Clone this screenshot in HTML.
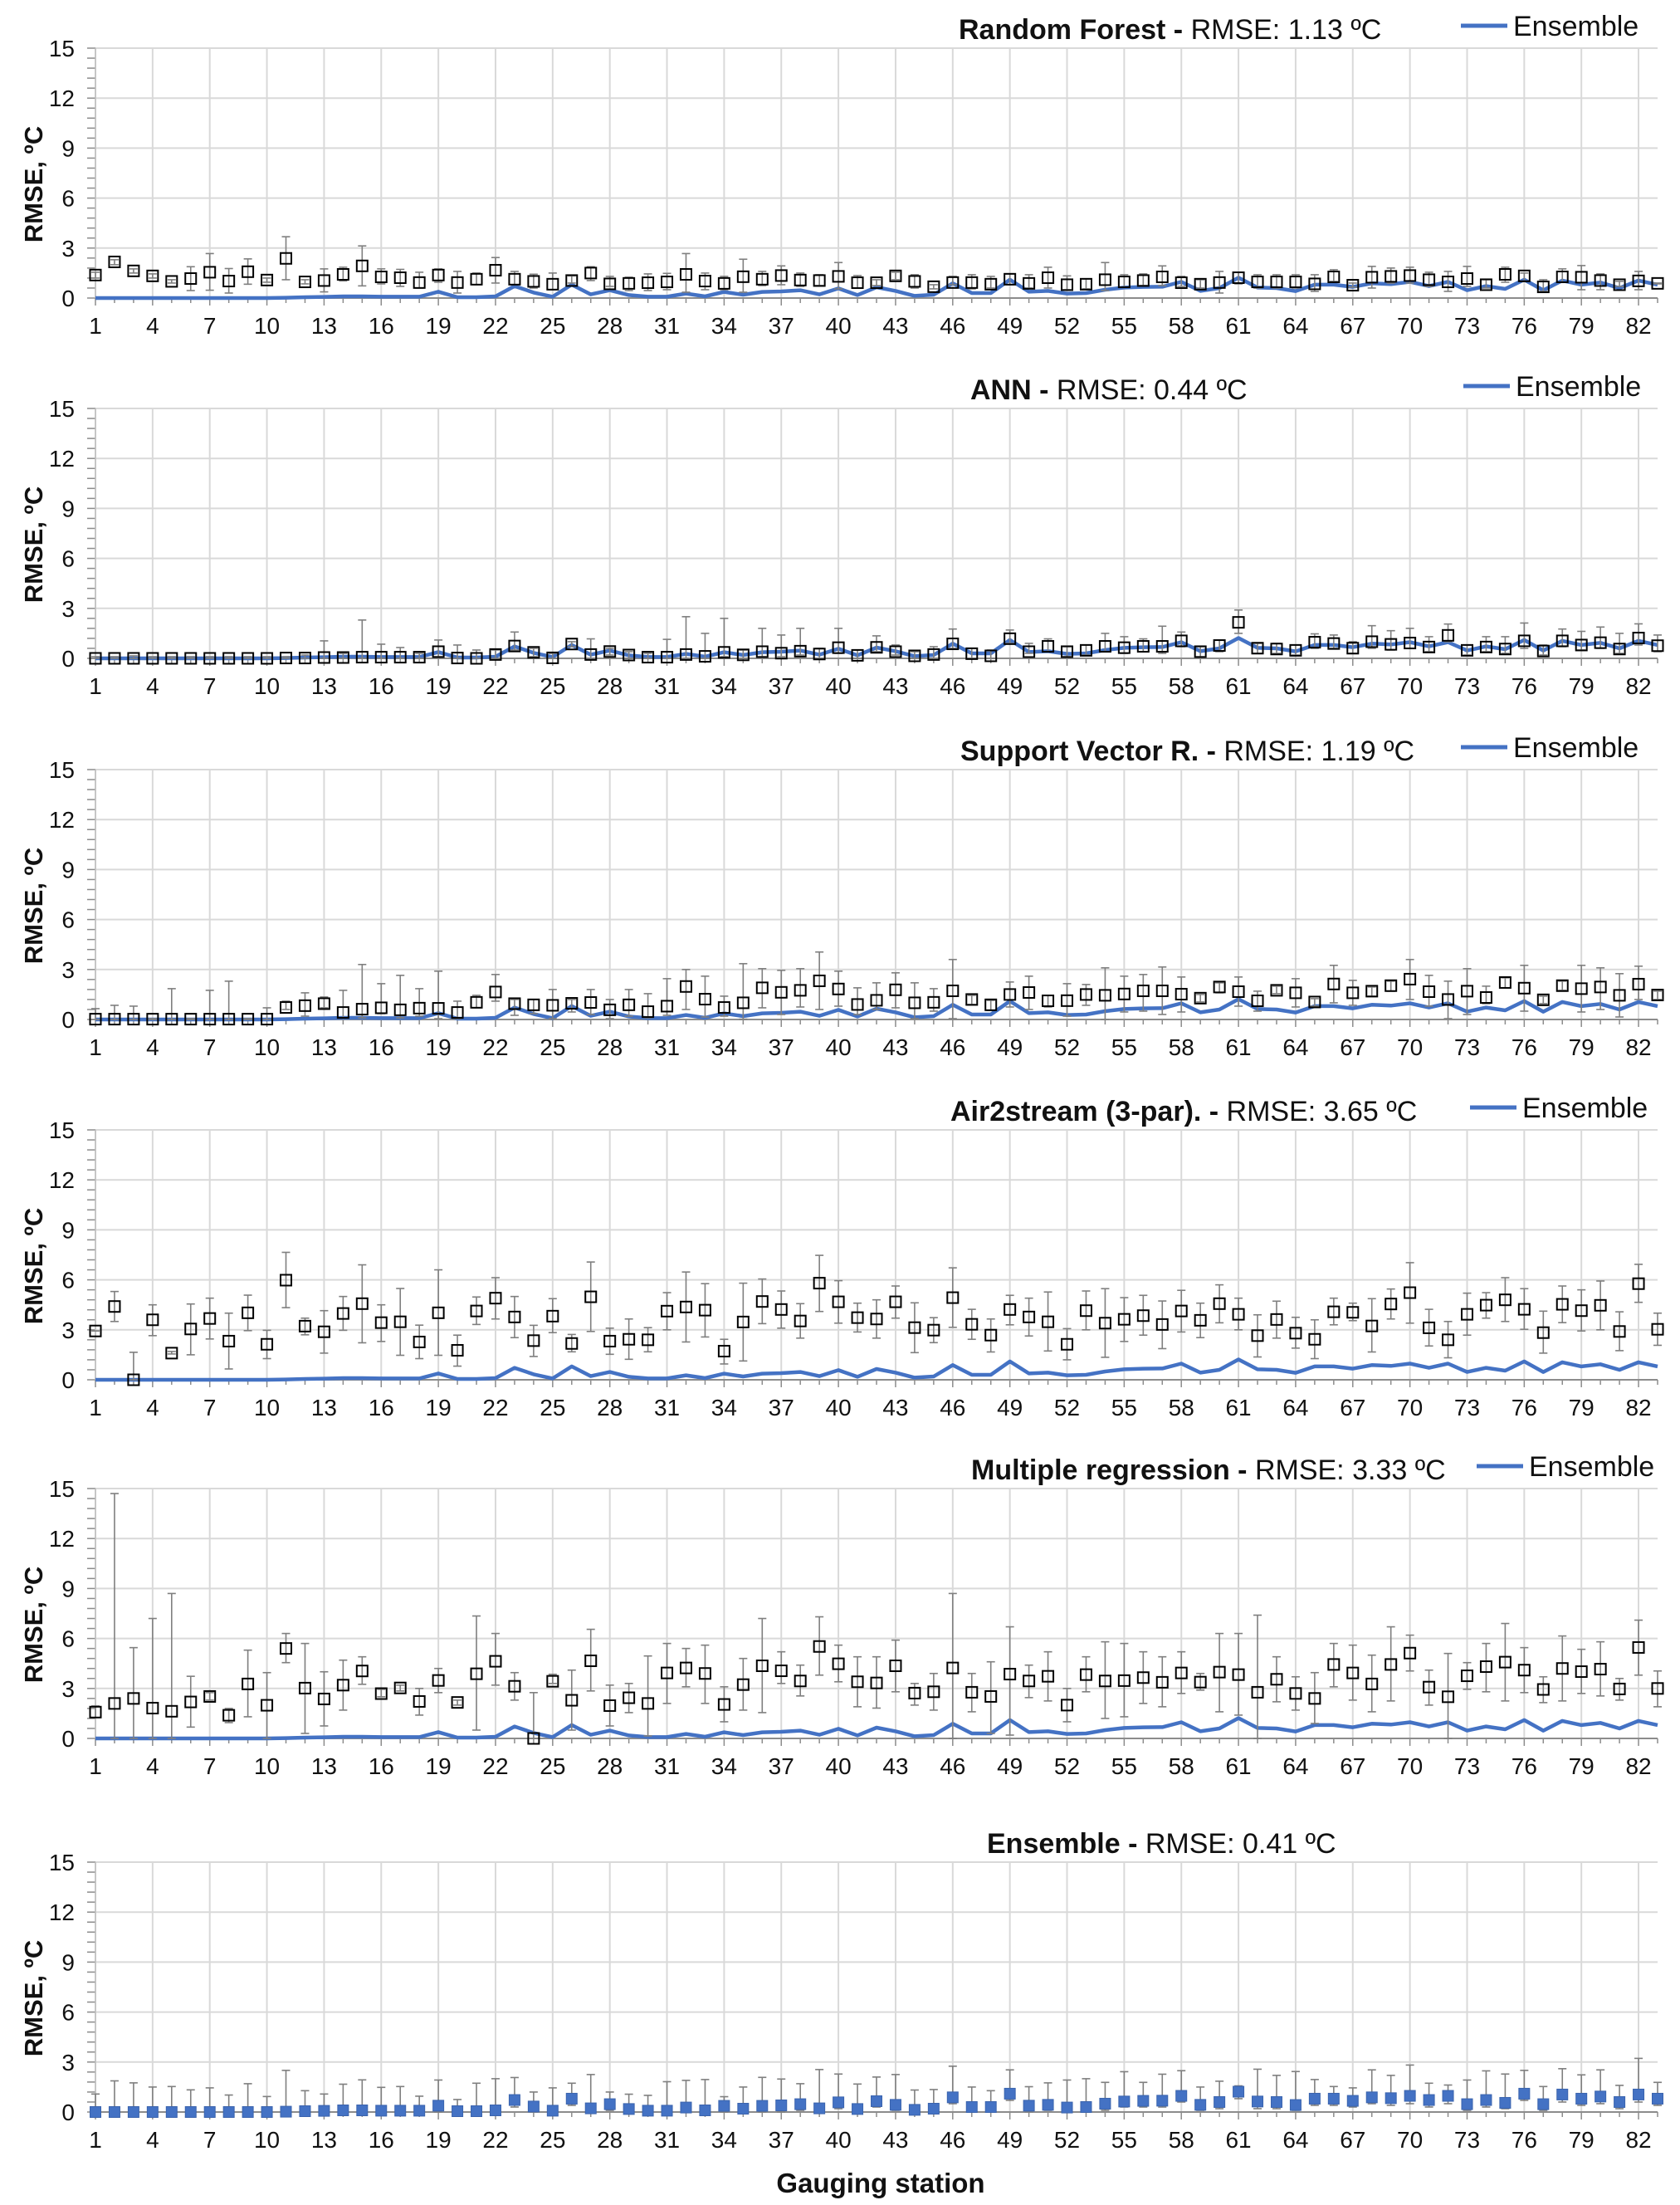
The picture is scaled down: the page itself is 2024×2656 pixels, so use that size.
<!DOCTYPE html>
<html><head><meta charset="utf-8"><title>RMSE per gauging station</title>
<style>
html,body{margin:0;padding:0;background:#fff;}
svg{display:block;font-family:"Liberation Sans",Arial,sans-serif;}
</style></head>
<body>
<svg id="chart" width="2024" height="2656" viewBox="0 0 2024 2656" xmlns="http://www.w3.org/2000/svg">
<rect x="0" y="0" width="2024" height="2656" fill="#fff"/>
</svg>
<script>
const stationCount = 83;
const yTicks = [0, 3, 6, 9, 12, 15];
const xTickLabels = [1,4,7,10,13,16,19,22,25,28,31,34,37,40,43,46,49,52,55,58,61,64,67,70,73,76,79,82];
const panelModels = ["Random Forest", "ANN", "Support Vector R.", "Air2stream (3-par).", "Multiple regression", "Ensemble"];
const panelRmse = ["1.13", "0.44", "1.19", "3.65", "3.33", "0.41"];

const ensembleVals = [0,0,0,0,0,0,0,0,0,0,
0.02,0.05,0.07,0.1,0.1,0.08,0.08,0.08,0.38,0.05,
0.05,0.1,0.72,0.33,0.08,0.8,0.22,0.47,0.18,0.08,
0.08,0.27,0.1,0.37,0.2,0.37,0.4,0.47,0.22,0.58,
0.18,0.65,0.43,0.13,0.2,0.88,0.3,0.3,1.1,0.38,
0.43,0.27,0.3,0.5,0.63,0.67,0.68,0.97,0.43,0.6,
1.22,0.63,0.6,0.42,0.8,0.8,0.67,0.88,0.83,0.97,
0.72,0.97,0.47,0.72,0.55,1.1,0.47,1.05,0.8,0.93,
0.6,1.05,0.8];

const rfVals = [1.38,2.17,1.63,1.33,1.0,1.17,1.55,1.02,1.58,1.08,
2.38,0.97,1.05,1.42,1.93,1.27,1.22,0.93,1.38,0.93,
1.13,1.67,1.13,1.0,0.83,1.05,1.5,0.85,0.88,0.92,
0.97,1.42,1.02,0.88,1.28,1.13,1.35,1.08,1.05,1.3,
0.92,0.92,1.33,1.0,0.68,0.93,0.93,0.83,1.13,0.88,
1.22,0.8,0.83,1.1,0.97,1.05,1.27,0.92,0.83,0.93,
1.22,0.97,0.97,0.97,0.85,1.27,0.77,1.25,1.3,1.35,
1.1,0.97,1.17,0.8,1.42,1.33,0.67,1.27,1.25,1.05,
0.8,1.03,0.88];
const rfLo = [1.2,2.0,1.5,1.2,0.9,0.45,0.47,0.3,0.83,0.95,
1.1,0.85,0.37,1.03,0.73,0.85,0.7,0.6,0.95,0.3,
0.8,0.9,0.8,0.6,0.5,0.9,1.05,0.7,0.45,0.45,
0.5,0.35,0.5,0.5,0.35,0.75,0.8,0.7,0.75,0.55,
0.6,0.75,1.1,0.6,0.55,0.8,0.55,0.6,0.8,0.6,
0.6,0.5,0.55,0.45,0.65,0.75,0.75,0.7,0.6,0.3,
0.85,0.6,0.6,0.6,0.4,1.0,0.65,0.6,0.9,0.9,
0.7,0.4,0.7,0.6,0.95,1.0,0.4,0.95,0.5,0.5,
0.7,0.5,0.85];
const rfHi = [1.55,2.3,1.75,1.45,1.1,1.88,2.67,1.77,2.35,1.2,
3.68,1.1,1.75,1.85,3.13,1.75,1.72,1.55,1.75,1.6,
1.5,2.43,1.6,1.43,1.5,1.33,1.88,1.3,1.25,1.45,
1.48,2.67,1.5,1.3,2.33,1.6,1.93,1.5,1.4,2.13,
1.35,1.1,1.55,1.4,0.8,1.3,1.4,1.3,1.45,1.4,
1.85,1.33,1.15,2.13,1.4,1.45,1.93,1.3,1.1,1.6,
1.55,1.4,1.4,1.4,1.4,1.7,0.9,1.9,1.8,1.85,
1.55,1.6,1.9,1.1,1.85,1.5,1.1,1.75,1.95,1.45,
1.0,1.6,0.9];

const annVals = [0,0,0,0,0,0,0,0,0,0,
0.02,0.02,0.05,0.05,0.07,0.07,0.07,0.07,0.4,0.02,
0,0.23,0.74,0.36,0.03,0.86,0.23,0.41,0.2,0.07,
0.07,0.23,0.12,0.36,0.21,0.4,0.31,0.43,0.26,0.64,
0.18,0.66,0.4,0.15,0.23,0.87,0.28,0.15,1.18,0.4,
0.72,0.4,0.48,0.72,0.64,0.72,0.72,1.05,0.4,0.77,
2.16,0.61,0.56,0.48,0.97,0.89,0.61,1.0,0.84,0.92,
0.68,1.38,0.48,0.68,0.56,1.05,0.44,1.05,0.8,0.94,
0.56,1.22,0.76];
const annLo = [0,0,0,0,0,0,0,0,0,0,
0,0,0,0,0,0,0,0,0.1,0,
0,0,0.5,0.1,0,0.7,0,0.2,0,0,
0,0,0,0.1,0,0.1,0.1,0.2,0,0.3,
0,0.4,0.2,0,0,0.6,0,0,0.9,0.3,
0.4,0.1,0.2,0.4,0.3,0.4,0.3,0.7,0.1,0.4,
1.5,0.3,0.3,0.2,0.6,0.6,0.3,0.6,0.5,0.6,
0.4,1.0,0.2,0.4,0.3,0.6,0.2,0.7,0.5,0.6,
0.3,0.8,0.4];
const annHi = [0.1,0.1,0.15,0.1,0.1,0.1,0.1,0.1,0.1,0.1,
0.1,0.2,1.05,0.3,2.3,0.85,0.65,0.3,1.1,0.8,
0.5,0.5,1.58,0.6,0.3,1.0,1.17,0.6,0.4,0.3,
1.14,2.5,1.5,2.4,0.5,1.8,1.4,1.8,0.6,1.8,
0.5,1.35,0.8,0.4,0.7,1.76,0.6,0.5,1.7,0.9,
1.17,0.7,0.8,1.5,1.3,1.17,1.93,1.58,0.7,1.1,
2.9,0.9,0.9,0.8,1.47,1.4,1.0,1.96,1.66,1.8,
1.3,2.06,0.8,1.3,1.3,2.12,0.8,1.76,1.62,1.88,
1.5,2.07,1.4];

const svrVals = [0.02,0.02,0.02,0.02,0.02,0.02,0.02,0.02,0.02,0.02,
0.72,0.83,0.95,0.42,0.62,0.7,0.58,0.68,0.67,0.42,
1.03,1.65,0.95,0.88,0.85,0.97,1.02,0.58,0.88,0.47,
0.8,1.98,1.22,0.72,1.0,1.9,1.63,1.75,2.32,1.83,
0.9,1.15,1.78,1.0,1.03,1.72,1.2,0.88,1.5,1.62,
1.12,1.13,1.5,1.45,1.53,1.72,1.72,1.52,1.28,1.95,
1.67,1.12,1.75,1.6,1.05,2.13,1.6,1.7,2.03,2.42,
1.67,1.2,1.7,1.32,2.22,1.88,1.18,2.03,1.85,1.95,
1.45,2.12,1.47];
const svrLo = [0,0,0,0,0,0,0,0,0,0,
0.6,0.2,0.7,0.1,0.1,0.35,0.1,0.2,0.05,0.05,
0.7,1.1,0.25,0.35,0.05,0.45,0.3,0.05,0.2,0.1,
0.25,0.6,0.15,0.2,0.02,0.7,0.3,0.75,0.6,0.8,
0.3,0.6,0.7,0.05,0.5,0.05,0.9,0.55,0.75,0.6,
0.75,0.2,0.85,0,0.45,0.5,0.3,0.45,1.05,1.6,
0.8,0.5,1.55,0.75,0.8,1.0,0.85,1.4,1.7,1.2,
0.8,0.05,0.3,0.95,1.9,0.5,0.95,1.75,0.45,0.6,
0.15,1.2,1.2];
const svrHi = [0.65,0.85,0.8,0.05,1.85,0.05,1.75,2.3,0.05,0.7,
1.1,1.6,1.35,1.75,3.3,2.15,2.65,1.85,2.9,1.1,
1.45,2.7,1.2,1.2,1.8,1.2,1.8,1.2,1.8,1.55,
2.45,3.0,2.6,1.4,3.35,3.05,2.95,3.05,4.05,2.9,
1.9,2.2,2.8,2.2,1.85,3.6,1.45,1.15,2.25,2.6,
1.45,2.15,2.1,3.1,2.6,2.7,3.15,2.55,1.5,2.2,
2.55,1.7,2.0,2.45,1.25,3.25,2.35,1.95,2.3,3.6,
2.65,2.3,3.05,2.0,2.5,3.25,1.4,2.3,3.25,3.1,
2.75,3.2,1.7];

const a2sVals = [2.93,4.4,0,3.6,1.6,3.05,3.68,2.32,4.02,2.13,
5.98,3.22,2.88,3.98,4.57,3.43,3.48,2.27,4.02,1.77,
4.13,4.9,3.77,2.35,3.82,2.18,4.98,2.32,2.43,2.4,
4.12,4.37,4.18,1.72,3.47,4.7,4.22,3.53,5.8,4.68,
3.73,3.65,4.68,3.13,2.98,4.93,3.33,2.68,4.22,3.77,
3.48,2.13,4.15,3.4,3.63,3.85,3.32,4.13,3.57,4.57,
3.93,2.65,3.62,2.8,2.43,4.08,4.05,3.23,4.55,5.23,
3.12,2.4,3.93,4.48,4.8,4.23,2.83,4.53,4.15,4.47,
2.9,5.77,3.03];
const a2sLo = [2.93,3.5,0,2.65,1.55,1.5,2.45,0.65,2.95,1.27,
4.33,2.7,1.6,2.97,2.22,2.3,1.47,1.27,1.47,0.82,
3.32,3.65,2.53,1.4,2.83,1.68,2.9,1.53,1.23,1.68,
3.0,2.27,2.57,0.95,1.13,3.37,3.1,2.5,4.1,3.4,
2.87,2.5,3.7,1.63,2.23,3.15,2.43,1.67,3.3,2.63,
1.73,1.2,3.0,1.35,2.3,2.68,1.87,2.87,2.53,3.42,
3.0,1.37,2.5,1.9,1.27,3.3,3.55,1.67,3.65,3.4,
2.03,1.32,2.68,3.7,3.5,3.03,1.6,3.43,2.93,3.0,
1.75,4.65,2.07];
const a2sHi = [2.93,5.3,1.65,4.5,1.7,4.55,4.9,4.0,5.08,2.97,
7.65,3.7,4.15,5.0,6.9,4.5,5.48,3.28,6.6,2.68,
4.97,6.13,5.0,3.27,4.87,2.72,7.07,3.1,3.65,3.13,
5.23,6.47,5.77,2.43,5.8,6.05,5.33,4.57,7.47,5.95,
4.6,4.8,5.63,4.62,3.73,6.72,4.23,3.65,5.07,4.9,
5.27,3.07,5.33,5.47,4.93,5.07,4.73,5.37,4.6,5.7,
4.9,3.9,4.72,3.75,3.6,4.9,4.6,4.87,5.45,7.03,
4.23,3.5,5.2,5.23,6.13,5.47,4.12,5.63,5.4,5.93,
4.08,6.93,4.0];

const mrVals = [1.58,2.1,2.4,1.82,1.63,2.19,2.52,1.39,3.27,1.99,
5.4,3.02,2.37,3.2,4.05,2.69,3.03,2.22,3.48,2.16,
3.88,4.63,3.13,0,3.43,2.29,4.66,1.97,2.44,2.1,
3.93,4.23,3.9,2.04,3.23,4.36,4.06,3.45,5.52,4.48,
3.4,3.33,4.36,2.72,2.8,4.23,2.77,2.52,3.86,3.45,
3.73,2.0,3.83,3.45,3.47,3.65,3.37,3.93,3.38,3.98,
3.83,2.77,3.55,2.7,2.4,4.44,3.93,3.27,4.44,5.12,
3.08,2.5,3.76,4.31,4.58,4.1,2.94,4.2,4.01,4.16,
2.97,5.46,3.0];
const mrLo = [1.25,0,0,0,0,0.68,2.3,0.95,1.3,0,
4.55,0.3,0.75,1.7,3.25,2.5,2.85,1.4,2.75,2.0,
0.5,3.2,2.3,0,3.3,0.5,2.85,0.75,1.55,0.15,
2.1,3.1,2.1,1.0,1.7,1.55,3.3,2.55,3.8,3.4,
1.9,1.82,2.8,2.0,1.7,0,1.6,0.3,0.2,2.45,
2.25,1.0,2.8,1.2,1.3,2.1,1.9,2.7,2.9,1.6,
1.4,0,2.2,1.7,0.9,3.1,2.3,1.6,2.25,4.05,
2.0,0,2.95,2.8,2.25,2.75,2.15,2.25,2.7,2.55,
2.3,3.8,1.9];
const mrHi = [1.95,14.7,5.45,7.2,8.7,3.73,2.75,1.8,5.3,3.95,
6.3,5.7,4.0,4.7,4.9,2.95,3.2,3.0,4.2,2.3,
7.35,6.3,3.95,2.75,3.85,4.1,6.55,3.2,3.3,4.95,
5.7,5.4,5.6,3.1,4.8,7.2,5.2,4.4,7.3,5.6,
4.9,4.9,5.9,3.3,3.9,8.7,3.9,4.6,6.7,4.4,
5.2,3.0,4.9,5.8,5.7,5.2,4.9,5.2,3.9,6.3,
6.3,7.4,4.9,3.7,3.95,5.7,5.6,5.0,6.7,6.2,
4.1,5.1,4.55,5.7,6.9,5.45,3.7,6.15,5.35,5.8,
3.6,7.1,4.05];

const ensLo = [0,0,0,0,0,0,0,0,0,0,
0,0,0,0,0,0,0,0,0,0,
0,0,0.3,0,0,0.4,0,0.1,0,0,
0,0,0,0,0,0,0,0.1,0,0.2,
0,0.3,0.1,0,0,0.5,0,0,0.7,0,
0.1,0,0,0.1,0.3,0.3,0.3,0.6,0.1,0.2,
0.8,0.2,0.2,0.1,0.4,0.4,0.3,0.5,0.4,0.5,
0.3,0.5,0.1,0.3,0.2,0.7,0.1,0.6,0.4,0.5,
0.2,0.6,0.4];
const ensHi = [1.08,1.87,1.75,1.5,1.53,1.33,1.45,1.02,1.7,0.93,
2.5,1.28,1.08,1.67,1.93,1.48,1.53,0.95,1.92,0.75,
1.73,2.0,2.07,1.2,1.45,1.73,2.25,1.2,1.07,1.0,
1.82,1.9,1.95,0.92,1.5,2.08,1.98,1.7,2.55,2.28,
1.68,2.1,2.25,1.32,1.35,2.75,1.5,1.28,2.53,1.52,
1.75,1.92,2.0,1.78,2.42,1.78,2.27,2.48,1.5,1.85,
1.57,2.57,2.2,2.43,1.95,1.53,1.45,2.53,2.2,2.82,
1.73,1.62,1.92,2.47,2.28,2.5,1.53,2.6,2.23,2.53,
1.6,3.22,1.78];

// layout (not data)
const svg = document.getElementById('chart');
const NS = 'http://www.w3.org/2000/svg';
const X0 = 115, X1 = 1997, PLOT_H = 301, YMAX = 15;
const panelTops = [58, 492, 927, 1361, 1793, 2243];
const titleX = [1155, 1169, 1157, 1145, 1170, 1189];
const legendX = [1760, 1763, 1760, 1771, 1779, null];
const panelSeries = [
  [rfVals, rfLo, rfHi], [annVals, annLo, annHi], [svrVals, svrLo, svrHi],
  [a2sVals, a2sLo, a2sHi], [mrVals, mrLo, mrHi], [ensembleVals, ensLo, ensHi]
];
const panelNames = ['random-forest','ann','support-vector','air2stream','multiple-regression','ensemble'];

function el(tag, attrs, parent) {
  const e = document.createElementNS(NS, tag);
  for (const k in attrs) e.setAttribute(k, attrs[k]);
  parent.appendChild(e);
  return e;
}
function xScale(i) { return X0 + (X1 - X0) * i / (stationCount - 1); }

panelSeries.forEach((series, p) => {
  const top = panelTops[p], zero = top + PLOT_H;
  const yScale = v => zero - v / YMAX * PLOT_H;
  const g = el('g', {}, svg);
  
  

  yTicks.forEach(t => {
    if (t === 0) return;
    const l = el('line', {x1: X0, x2: X1, y1: yScale(t), y2: yScale(t), stroke: '#d9d9d9', 'stroke-width': 2}, g);
    
    
  });
  xTickLabels.forEach(s => {
    const x = xScale(s - 1);
    const l = el('line', {x1: x, x2: x, y1: top, y2: zero, stroke: '#d9d9d9', 'stroke-width': 2}, g);
    
    
  });
  for (let v = 0; v <= YMAX + 0.001; v += 0.6) {
    el('line', {x1: X0 - 10, x2: X0, y1: yScale(v), y2: yScale(v), stroke: '#8c8c8c', 'stroke-width': 1.5}, g);
  }
  el('line', {x1: X0, x2: X0, y1: top, y2: zero, stroke: '#bfbfbf', 'stroke-width': 1.5}, g);
  const ax = el('line', {x1: X0, x2: X1, y1: zero, y2: zero, stroke: '#8c8c8c', 'stroke-width': 2}, g);
  
  
  for (let i = 0; i < stationCount; i++) {
    const major = (i % 3) === 0;
    el('line', {x1: xScale(i), x2: xScale(i), y1: zero, y2: zero + (major ? 9 : 6), stroke: '#8c8c8c', 'stroke-width': 1.5}, g);
  }
  yTicks.forEach(t => {
    const tx = el('text', {x: 90, y: yScale(t) + 10, 'text-anchor': 'end', 'font-size': 28, fill: '#111'}, g);
    tx.textContent = t;
    
    
  });
  xTickLabels.forEach(s => {
    const tx = el('text', {x: xScale(s - 1), y: zero + 43, 'text-anchor': 'middle', 'font-size': 28, fill: '#111'}, g);
    tx.textContent = s;
    
    
  });
  const yc = zero - 137;
  const yt = el('text', {x: 0, y: 0, transform: 'translate(51,' + yc + ') rotate(-90)', 'text-anchor': 'middle', 'font-size': 31, 'font-weight': 'bold', fill: '#111'}, g);
  yt.textContent = 'RMSE, ºC';
  
  
  const tt = el('text', {x: titleX[p], y: top - 11, 'font-size': 34, fill: '#111'}, g);
  
  
  const b = el('tspan', {'font-weight': 'bold'}, tt);
  b.textContent = panelModels[p] + ' - ';
  const n = el('tspan', {}, tt);
  n.textContent = 'RMSE: ' + panelRmse[p] + ' ºC';
  if (legendX[p] !== null) {
    const lg = el('g', {}, g);
    
    
    el('line', {x1: legendX[p], x2: legendX[p] + 56, y1: top - 27, y2: top - 27, stroke: '#4472C4', 'stroke-width': 5}, lg);
    const lt = el('text', {x: legendX[p] + 63, y: top - 15, 'font-size': 34, fill: '#111'}, lg);
    lt.textContent = 'Ensemble';
  }

  const [vals, lo, hi] = series;
  if (p < 5) {
    const pts = ensembleVals.map((v, i) => xScale(i).toFixed(1) + ',' + yScale(v).toFixed(1)).join(' ');
    const pl = el('polyline', {points: pts, fill: 'none', stroke: '#4472C4', 'stroke-width': 4.5, 'stroke-linejoin': 'round'}, g);
    
    
  }
  vals.forEach((v, i) => {
    const x = xScale(i);
    const eg = el('g', {stroke: '#7f7f7f', 'stroke-width': 1.6}, g);
    
    
    el('line', {x1: x, x2: x, y1: yScale(lo[i]), y2: yScale(hi[i])}, eg);
    el('line', {x1: x - 5, x2: x + 5, y1: yScale(lo[i]), y2: yScale(lo[i])}, eg);
    el('line', {x1: x - 5, x2: x + 5, y1: yScale(hi[i]), y2: yScale(hi[i])}, eg);
    let m;
    if (p < 5) {
      m = el('rect', {x: x - 6.5, y: yScale(v) - 6.5, width: 13, height: 13, fill: 'none', stroke: '#000', 'stroke-width': 2}, g);
    } else {
      m = el('rect', {x: x - 6.5, y: yScale(v) - 6.5, width: 13, height: 13, fill: '#4472C4', stroke: '#3a63ad', 'stroke-width': 1}, g);
    }
    
    
  });
});

const xt = el('text', {x: 1061, y: 2641, 'text-anchor': 'middle', 'font-size': 33, 'font-weight': 'bold', fill: '#111'}, svg);
xt.textContent = 'Gauging station';


</script>
</body></html>
